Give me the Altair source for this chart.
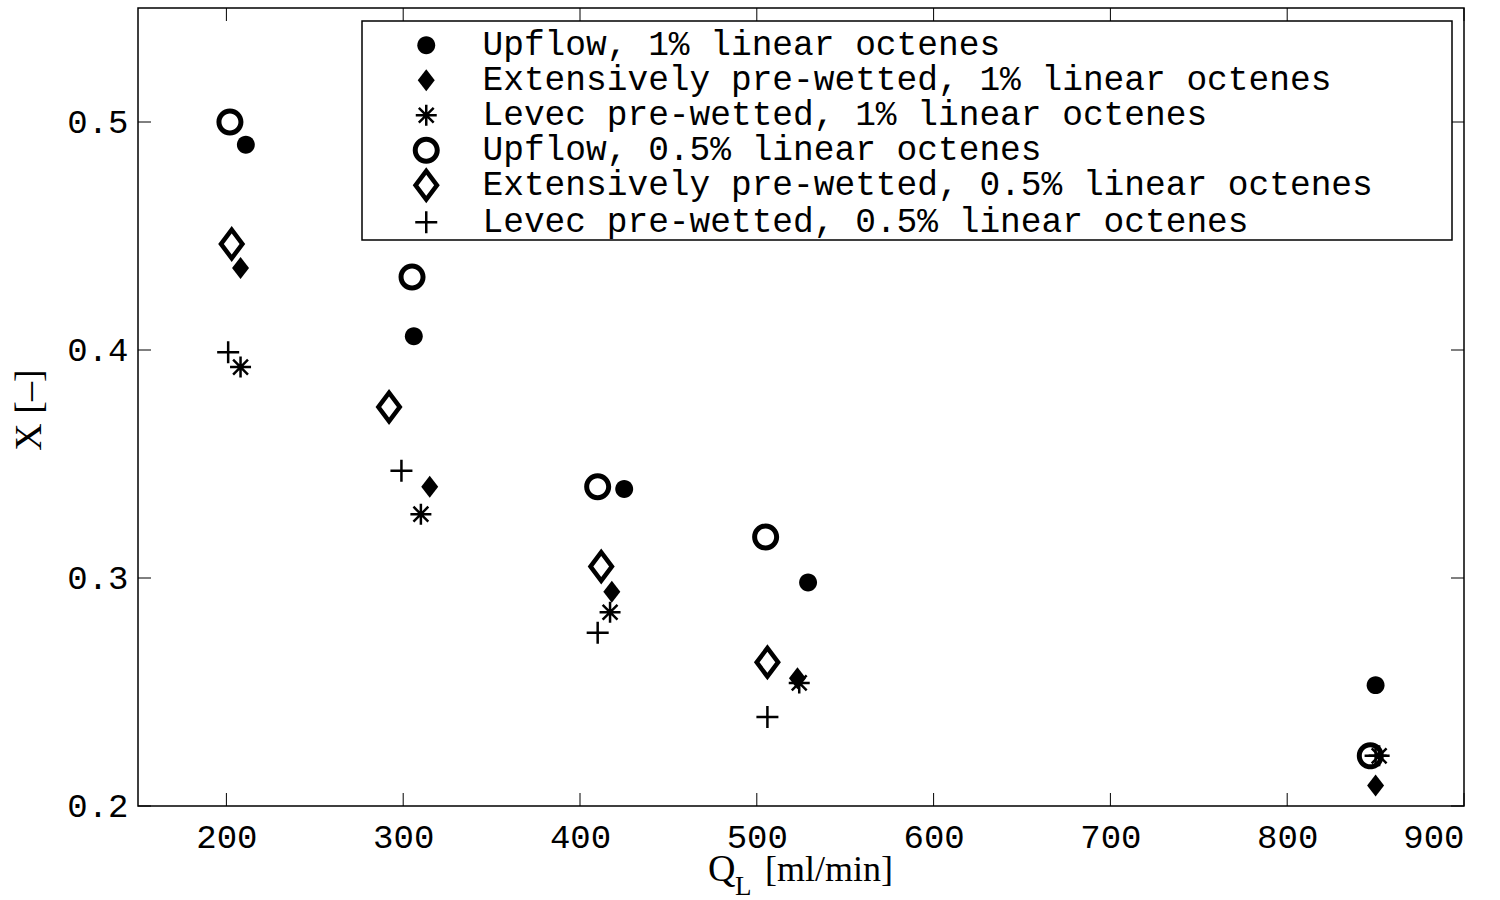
import altair as alt
import pandas as pd

# ---- data ----
series_names = [
    "Upflow, 1% linear octenes",
    "Extensively pre-wetted, 1% linear octenes",
    "Levec pre-wetted, 1% linear octenes",
    "Upflow, 0.5% linear octenes",
    "Extensively pre-wetted, 0.5% linear octenes",
    "Levec pre-wetted, 0.5% linear octenes",
]

up1_q = [211, 306, 425, 529, 850]
up1_x = [0.490, 0.406, 0.339, 0.298, 0.253]

ext1_q = [208, 315, 418, 523, 850]
ext1_x = [0.436, 0.340, 0.294, 0.256, 0.209]

lev1_q = [208, 310, 417, 524, 852]
lev1_x = [0.3925, 0.328, 0.285, 0.254, 0.222]

up05_q = [202, 305, 410, 505, 847]
up05_x = [0.500, 0.432, 0.340, 0.318, 0.222]

ext05_q = [203, 292, 412, 506]
ext05_x = [0.4465, 0.375, 0.305, 0.263]

lev05_q = [201, 299, 410, 506, 850]
lev05_x = [0.399, 0.347, 0.276, 0.239, 0.222]

x_ticks = [200, 300, 400, 500, 600, 700, 800, 900]
y_ticks = [0.2, 0.3, 0.4, 0.5]

# drawing order: asterisks last so they sit on top
order = [
    (series_names[0], up1_q, up1_x),
    (series_names[1], ext1_q, ext1_x),
    (series_names[3], up05_q, up05_x),
    (series_names[4], ext05_q, ext05_x),
    (series_names[5], lev05_q, lev05_x),
    (series_names[2], lev1_q, lev1_x),
]
rows = []
for name, qs, xs in order:
    for q, x in zip(qs, xs):
        rows.append({"series": name, "Q": q, "X": x})
df = pd.DataFrame(rows)

# ---- styling ----
W, H = 1326, 798
FONT_MONO = "Liberation Mono"
FONT_SERIF = "Liberation Serif"
SYM = 1024  # symbol size -> 1 path unit = 16 px

DOT = "M-0.56,0A0.56,0.56,0,1,0,0.56,0A0.56,0.56,0,1,0,-0.56,0Z"
DIAMOND = "M0,-0.6875L0.531,0L0,0.6875L-0.531,0Z"
ASTER = ("M-0.078,-0.656L0.078,-0.656L0.078,0.656L-0.078,0.656Z"
         "M-0.656,-0.078L0.656,-0.078L0.656,0.078L-0.656,0.078Z"
         "M-0.409,-0.519L0.519,0.409L0.409,0.519L-0.519,-0.409Z"
         "M-0.519,0.409L0.409,-0.519L0.519,-0.409L-0.409,0.519Z")
RING = ("M-0.844,0A0.844,0.844,0,1,0,0.844,0A0.844,0.844,0,1,0,-0.844,0Z"
        "M-0.531,0A0.531,0.531,0,1,1,0.531,0A0.531,0.531,0,1,1,-0.531,0Z")
ODIAMOND = ("M0,-1.125L0.844,0L0,1.125L-0.844,0Z"
            "M0,-0.656L-0.492,0L0,0.656L0.492,0Z")
PLUS = ("M-0.078,-0.6875L0.078,-0.6875L0.078,-0.078L0.6875,-0.078L0.6875,0.078"
        "L0.078,0.078L0.078,0.6875L-0.078,0.6875L-0.078,0.078L-0.6875,0.078"
        "L-0.6875,-0.078L-0.078,-0.078Z")
shape_range = [DOT, DIAMOND, ASTER, RING, ODIAMOND, PLUS]

xscale = alt.Scale(domain=[150, 900], nice=False, zero=False)
yscale = alt.Scale(domain=[0.2, 0.55], nice=False, zero=False)

points = alt.Chart(df).mark_point(
    opacity=1, filled=True, fill="black", strokeWidth=0, size=SYM
).encode(
    x=alt.X("Q:Q", scale=xscale,
            axis=alt.Axis(values=x_ticks, title=None, tickSize=0, grid=False, domain=False,
                          labelFont=FONT_MONO, labelFontSize=34, labelColor="black",
                          labelPadding=14, format="d")),
    y=alt.Y("X:Q", scale=yscale,
            axis=alt.Axis(values=y_ticks, title=None, tickSize=0, grid=False, domain=False,
                          labelFont=FONT_MONO, labelFontSize=34, labelColor="black",
                          labelPadding=10, format=".1f")),
    shape=alt.Shape("series:N", sort=series_names,
                    scale=alt.Scale(domain=series_names, range=shape_range), title=None),
    order=alt.Order("idx:Q"),
).transform_window(idx="row_number()")

xt = pd.DataFrame({"v": x_ticks})
yt = pd.DataFrame({"v": y_ticks})
TL = 13
xt_bottom = alt.Chart(xt).mark_rule(color="black", strokeWidth=1).encode(
    x=alt.X("v:Q", scale=xscale), y=alt.value(H), y2=alt.value(H - TL))
xt_top = alt.Chart(xt).mark_rule(color="black", strokeWidth=1).encode(
    x=alt.X("v:Q", scale=xscale), y=alt.value(0), y2=alt.value(TL))
yt_left = alt.Chart(yt).mark_rule(color="black", strokeWidth=1).encode(
    y=alt.Y("v:Q", scale=yscale), x=alt.value(0), x2=alt.value(TL))
yt_right = alt.Chart(yt).mark_rule(color="black", strokeWidth=1).encode(
    y=alt.Y("v:Q", scale=yscale), x=alt.value(W), x2=alt.value(W - TL))

box_df = pd.DataFrame({"k": [0]})
legend_box = alt.Chart(box_df).mark_rect(fill="white", stroke="black", strokeWidth=1.5).encode(
    x=alt.value(224), x2=alt.value(1314), y=alt.value(13), y2=alt.value(232))

title_df = pd.DataFrame({"t": ["Q"], "u": ["L"], "w": ["[ml/min]"], "y": ["X [\u2013]"]})
xt_q = alt.Chart(title_df).mark_text(font=FONT_SERIF, fontSize=38, align="left",
                                     baseline="alphabetic", color="black").encode(
    text="t:N", x=alt.value(570), y=alt.value(873))
xt_l = alt.Chart(title_df).mark_text(font=FONT_SERIF, fontSize=27, align="left",
                                     baseline="alphabetic", color="black").encode(
    text="u:N", x=alt.value(597), y=alt.value(887))
xt_w = alt.Chart(title_df).mark_text(font=FONT_SERIF, fontSize=36, align="left",
                                     baseline="alphabetic", color="black").encode(
    text="w:N", x=alt.value(627), y=alt.value(873))
yt_title = alt.Chart(title_df).mark_text(font=FONT_SERIF, fontSize=38, align="center",
                                         baseline="middle", angle=270, color="black").encode(
    text="y:N", x=alt.value(-108), y=alt.value(402))

chart = alt.layer(
    xt_bottom, xt_top, yt_left, yt_right, points, legend_box,
    xt_q, xt_l, xt_w, yt_title,
).properties(
    width=W, height=H,
    autosize=alt.AutoSizeParams(type="none"),
    padding={"left": 138, "top": 8, "right": 36, "bottom": 94},
    background="white",
).configure_view(
    stroke="black", strokeWidth=1.5
).configure_legend(
    orient="none", legendX=271, legendY=20, padding=0,
    labelFont=FONT_MONO, labelFontSize=34.5, labelColor="black", labelLimit=1200,
    labelOffset=39, rowPadding=0,
    symbolSize=SYM, symbolFillColor="black", symbolStrokeWidth=0,
)

chart.save("out.html", embed_options={"renderer": "svg", "actions": False})
